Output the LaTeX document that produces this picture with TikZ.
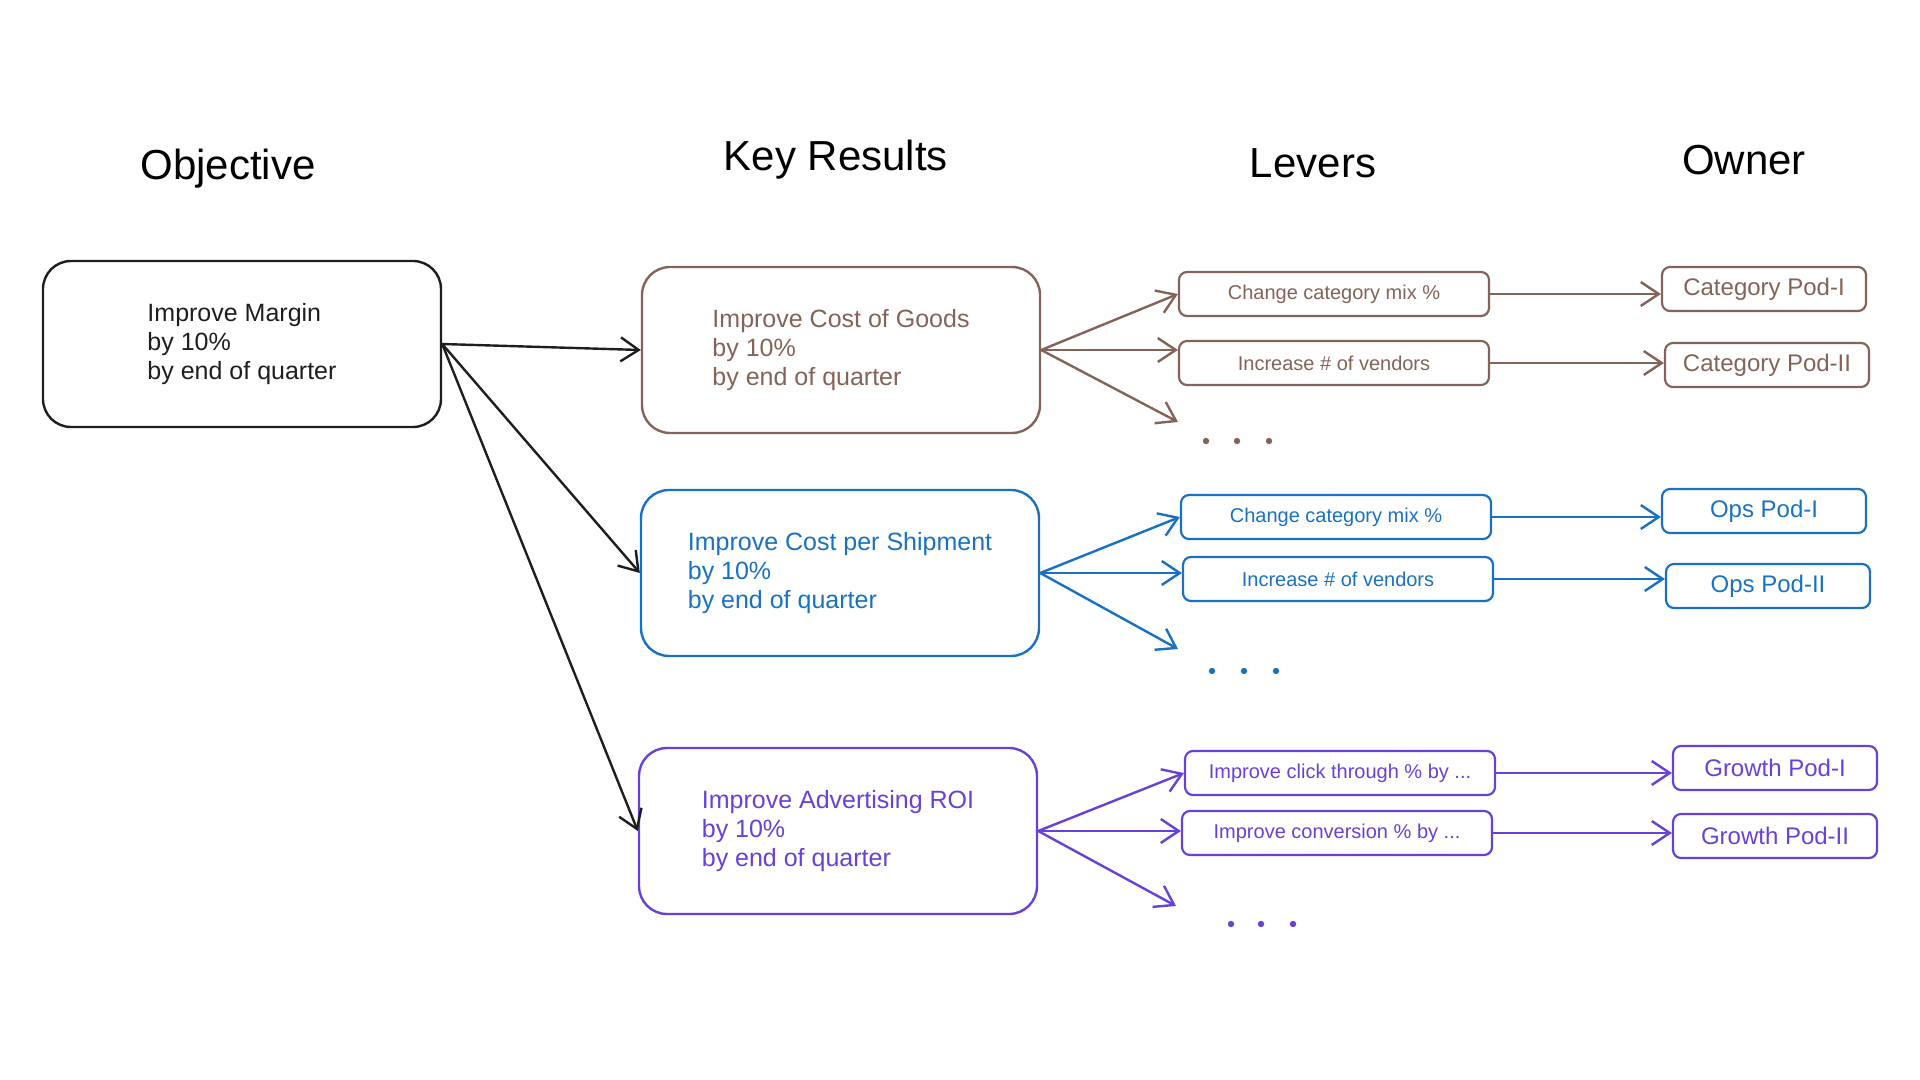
\documentclass[tikz,border=0pt]{standalone}
\usepackage{fontspec}
\setmainfont{Liberation Sans}
\usetikzlibrary{arrows.meta}
\definecolor{ink}{HTML}{1E1E1E}
\definecolor{brown}{HTML}{846358}
\definecolor{blue}{HTML}{1971C2}
\definecolor{purple}{HTML}{6741D9}
\begin{document}
\begin{tikzpicture}[x=0.5pt,y=-0.5pt,
  goal/.style={draw,line width=1.2pt,rounded corners=14pt,minimum width=199pt,minimum height=83pt,align=left,font=\fontsize{12.5}{14.5}\selectfont},
  lever/.style={draw,line width=1.1pt,rounded corners=4pt,minimum width=155pt,minimum height=22pt,inner sep=0pt,font=\fontsize{10}{12}\selectfont},
  pod/.style={draw,line width=1.1pt,rounded corners=4pt,minimum width=102pt,minimum height=22pt,inner sep=0pt,font=\fontsize{12}{14}\selectfont},
  head/.style={font=\fontsize{21}{24}\selectfont},
  link/.style={line width=1.2pt,-{Straight Barb[length=9pt,width=12pt]}}]
\useasboundingbox (0,0) rectangle (1920,1080);
\node[head] (hobj) at (228,169) {Objective};
\node[head] (hkr) at (836,160) {Key Results};
\node[head] (hlev) at (1313,163) {Levers};
\node[head] (hown) at (1744,160) {Owner};
% objective
\node[goal,ink] (obj) at (242,344) {Improve Margin\\by 10\%\\by end of quarter};
% key results
\node[goal,brown] (kr1) at (841,350) {Improve Cost of Goods\\by 10\%\\by end of quarter};
\node[goal,blue] (kr2) at (840,573) {Improve Cost per Shipment\\by 10\%\\by end of quarter};
\node[goal,purple] (kr3) at (838,831) {Improve Advertising ROI\\by 10\%\\by end of quarter};
% levers
\node[lever,brown] (l11) at (1334,294) {Change category mix \%};
\node[lever,brown] (l12) at (1334,363) {Increase \# of vendors};
\node[lever,blue] (l21) at (1336,517) {Change category mix \%};
\node[lever,blue] (l22) at (1338,579) {Increase \# of vendors};
\node[lever,purple] (l31) at (1340,773) {Improve click through \% by ...};
\node[lever,purple] (l32) at (1337,833) {Improve conversion \% by ...};
% owners
\node[pod,brown] (o11) at (1764,289) {Category Pod-I};
\node[pod,brown] (o12) at (1767,365) {Category Pod-II};
\node[pod,blue] (o21) at (1764,511) {Ops Pod-I};
\node[pod,blue] (o22) at (1768,586) {Ops Pod-II};
\node[pod,purple] (o31) at (1775,768) {Growth Pod-I};
\node[pod,purple] (o32) at (1775,836) {Growth Pod-II};
\coordinate (m1) at (1178,422);
\coordinate (m2) at (1178,649);
\coordinate (m3) at (1176,906);
\foreach \k in {1,2,3}
  \draw[link,ink] (obj.east) -- (kr\k.west);
\foreach \k/\c in {1/brown,2/blue,3/purple}{
  \draw[link,\c] (kr\k.east) -- (l\k1.west);
  \draw[link,\c] (kr\k.east) -- (kr\k.east -| l\k2.west);
  \draw[link,\c] (kr\k.east) -- (m\k);
  \draw[link,\c] (l\k1.east) -- (l\k1.east -| o\k1.west);
  \draw[link,\c] (l\k2.east) -- (l\k2.east -| o\k2.west);
}
\foreach \a/\b/\c in {1206/441/brown,1237/441/brown,1269/441/brown,1212/671/blue,1244/671/blue,1276/671/blue,1231/924/purple,1261/924/purple,1293/924/purple}
  \fill[\c] (\a,\b) circle (1.6pt);
\end{tikzpicture}
\end{document}
